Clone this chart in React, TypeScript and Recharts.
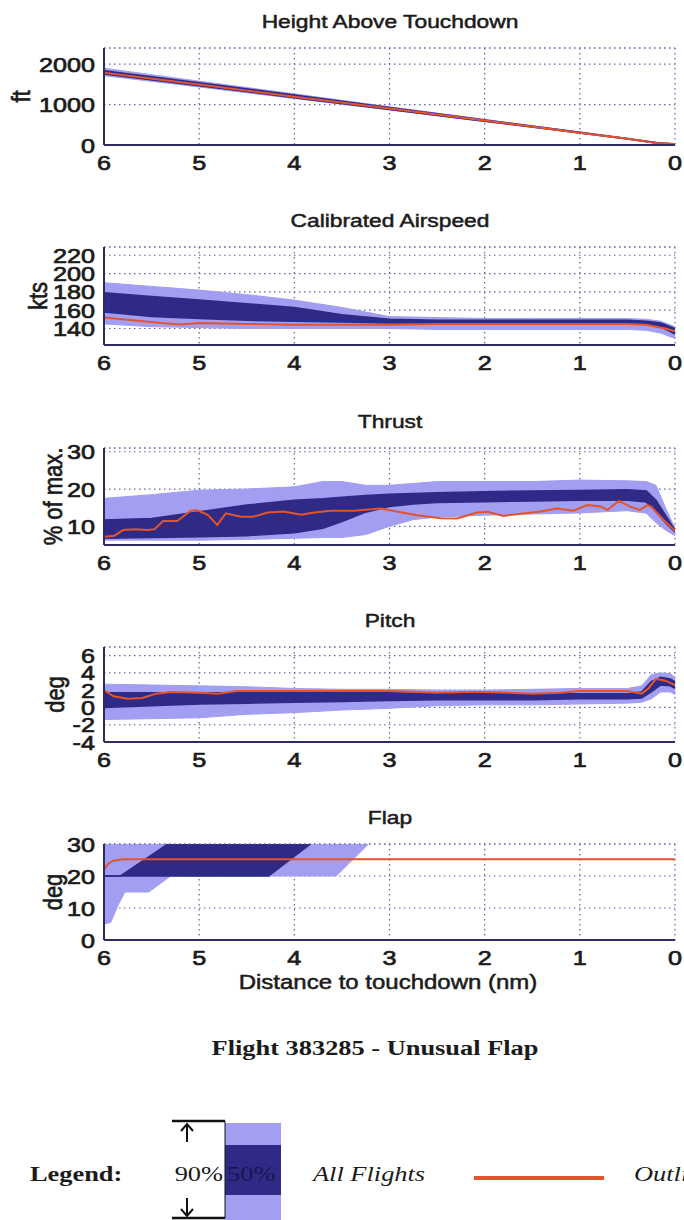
import React from 'react';
import { ComposedChart, Area, Line, XAxis, YAxis, CartesianGrid, ReferenceLine } from 'recharts';

const DIST_TICKS = [6, 5, 4, 3, 2, 1, 0];

// Height above touchdown (ft)
const heightDist = [6, 5, 4, 3, 2, 1, 0.5, 0.2, 0];
const heightLo90 = [1715, 1435, 1150, 868, 578, 290, 145, 40, 0];
const heightHi90 = [1900, 1580, 1265, 945, 635, 322, 165, 70, 30];
const heightLo50 = [1755, 1468, 1170, 880, 590, 296, 150, 48, 8];
const heightHi50 = [1840, 1540, 1235, 928, 620, 315, 160, 60, 22];
const heightOutDist = [6, 5, 4, 3, 2, 1, 0.5, 0.2, 0];
const heightOut = [1785, 1495, 1195, 905, 605, 305, 155, 50, 25];

// Calibrated airspeed (kts)
const speedDist = [6, 5.5, 5, 4.5, 4, 3.5, 3, 2.5, 2, 1.5, 1, 0.5, 0.3, 0.15, 0];
const speedHi90 = [190, 186, 182, 177, 171, 163, 153, 152, 151, 151, 151, 151, 150, 148, 142];
const speedHi50 = [179, 175, 171, 167, 163, 155, 150, 149, 149, 149, 149, 149, 148, 146, 140];
const speedLo50 = [158, 153, 151, 149, 148, 147, 146, 146, 146, 146, 146, 146, 145, 142, 134];
const speedLo90 = [145, 142, 141, 140, 140, 140, 140, 139, 139, 139, 139, 139, 138, 135, 129];
const speedOutDist = [6, 5.7, 5.4, 5.2, 5, 4.5, 4, 3.5, 3, 2.5, 2, 1.5, 1, 0.5, 0.3, 0.1, 0];
const speedOut = [152, 149, 146, 144.5, 146, 145, 144, 144, 144, 145, 145, 145, 145, 145, 144, 140, 137];

// Thrust (% of max.)
const thrustDist = [6, 5.5, 5, 4.5, 4, 3.7, 3.5, 3.25, 3, 2.75, 2.5, 2, 1.5, 1, 0.5, 0.3, 0.2, 0.1, 0];
const thrustHi90 = [17.5, 18.5, 19.7, 20, 20.6, 22, 22, 21, 21, 21.5, 22, 22, 22, 22.4, 22.2, 22, 21, 15, 9.5];
const thrustHi50 = [11.7, 12.1, 13.9, 15.7, 17, 17.4, 17.8, 18.3, 18.6, 18.8, 19, 19.3, 19.5, 19.6, 19.8, 19.5, 17, 13, 9];
const thrustLo50 = [6.8, 7, 7.2, 7.5, 8.3, 9.5, 11.3, 13.8, 15.3, 16, 16.4, 16.6, 16.8, 17, 17, 16.5, 14, 11, 8.5];
const thrustLo90 = [6.3, 6.3, 6.3, 6.5, 6.8, 7, 7, 7.8, 10, 11.8, 12.5, 13, 13.3, 13.6, 14.2, 13.5, 11, 9, 7.5];
const thrustOutDist = [
  6, 5.89, 5.8, 5.68, 5.54, 5.47, 5.38, 5.23, 5.09, 5.02, 4.91, 4.81, 4.72, 4.56, 4.43, 4.28, 4.11, 3.93, 3.79,
  3.62, 3.37, 3.09, 2.95, 2.71, 2.46, 2.29, 2.08, 1.97, 1.8, 1.62, 1.41, 1.24, 1.07, 0.92, 0.78, 0.71, 0.59,
  0.47, 0.37, 0.29, 0.25, 0.12, 0,
];
const thrustOut = [
  7.2, 7.5, 9.0, 9.2, 9.0, 9.2, 11.4, 11.4, 14.2, 14.3, 13.1, 10.4, 13.5, 12.6, 12.6, 13.7, 14.0, 13.1, 13.7,
  14.2, 14.2, 14.8, 14.1, 13.0, 12.2, 12.1, 13.7, 13.9, 12.8, 13.4, 14.0, 14.8, 14.2, 15.7, 15.3, 14.4, 16.8,
  15.3, 14.4, 15.7, 15.3, 11.7, 8.8,
];

// Pitch (deg)
const pitchDist = [6, 5.5, 5, 4.5, 4, 3.5, 3, 2.5, 2, 1.5, 1, 0.5, 0.35, 0.25, 0.15, 0.05, 0];
const pitchHi90 = [2.7, 2.6, 2.5, 2.4, 2.2, 2.1, 2.1, 2.0, 2.0, 2.1, 2.2, 2.2, 2.5, 3.8, 4.0, 3.9, 3.5];
const pitchHi50 = [1.7, 1.7, 1.7, 1.7, 1.7, 1.7, 1.7, 1.6, 1.6, 1.6, 1.6, 1.6, 1.8, 3.0, 3.5, 3.3, 3.0];
const pitchLo50 = [0.0, 0.2, 0.4, 0.5, 0.6, 0.7, 0.8, 0.9, 0.9, 0.9, 1.0, 1.0, 1.1, 1.8, 2.6, 2.5, 2.2];
const pitchLo90 = [-1.4, -1.3, -1.2, -0.8, -0.6, -0.3, -0.1, 0.2, 0.3, 0.3, 0.4, 0.5, 0.6, 1.0, 1.8, 1.8, 1.5];
const pitchOutDist = [6, 5.9, 5.75, 5.6, 5.45, 5.3, 5, 4.8, 4.6, 4, 3.5, 3, 2.5, 2.2, 2, 1.5, 1.2, 1, 0.5, 0.35, 0.28, 0.2, 0.1, 0];
const pitchOut = [2.0, 1.3, 1.0, 1.1, 1.6, 1.8, 1.7, 1.6, 1.9, 1.9, 1.9, 1.9, 1.7, 1.8, 1.8, 1.6, 1.7, 1.9, 1.9, 1.6, 2.2, 3.3, 3.1, 2.6];

// Flap (deg)
const flapDist90 = [6, 5.93, 5.85, 5.78, 5.53, 5.3, 3.56, 3.22];
const flapLo90 = [5, 5.5, 11, 15, 15, 20, 20, 30];
const flapHi90 = [30, 30, 30, 30, 30, 30, 30, 30];
const flapDist50 = [6, 5.83, 5.33, 4.27, 3.83];
const flapLo50 = [20, 20, 20, 20, 30];
const flapHi50 = [20, 20, 30, 30, 30];
const flapOutDist = [6, 5.95, 5.9, 5.85, 5.8, 0];
const flapOut = [22, 24, 24.8, 25, 25.2, 25.2];

const LIGHT = '#a29ef1';
const DARK = '#2e2a86';
const ORANGE = '#e4532b';
const GRID = '#5f63a8';
const AXIS = '#2c2c5e';
const INK = '#1b1b1b';
const SANS = '"Liberation Sans", Arial, sans-serif';
const SERIF = '"Liberation Serif", "Times New Roman", serif';
const SX = 1.2;

const band = (dist: number[], lo: number[], hi: number[]) => dist.map((d, i) => ({ d, v: [lo[i], hi[i]] }));
const trace = (dist: number[], vals: number[]) => dist.map((d, i) => ({ d, v: vals[i] }));

// unitX: centre of the rotated unit label, left of the widest tick label
const panels = [
  {
    title: 'Height Above Touchdown', unit: 'ft', unitX: 21, top: 48, bottom: 145, domain: [0, 2400], ticks: [0, 1000, 2000],
    outer: band(heightDist, heightLo90, heightHi90), inner: band(heightDist, heightLo50, heightHi50),
    outlier: trace(heightOutDist, heightOut),
  },
  {
    title: 'Calibrated Airspeed', unit: 'kts', unitX: 38, top: 247, bottom: 345, domain: [122, 229], ticks: [140, 160, 180, 200, 220],
    outer: band(speedDist, speedLo90, speedHi90), inner: band(speedDist, speedLo50, speedHi50),
    outlier: trace(speedOutDist, speedOut),
  },
  {
    title: 'Thrust', unit: '% of max.', unitX: 53, top: 448, bottom: 545, domain: [5, 31], ticks: [10, 20, 30],
    outer: band(thrustDist, thrustLo90, thrustHi90), inner: band(thrustDist, thrustLo50, thrustHi50),
    outlier: trace(thrustOutDist, thrustOut),
  },
  {
    title: 'Pitch', unit: 'deg', unitX: 55, top: 647, bottom: 742, domain: [-4, 7], ticks: [-4, -2, 0, 2, 4, 6],
    outer: band(pitchDist, pitchLo90, pitchHi90), inner: band(pitchDist, pitchLo50, pitchHi50),
    outlier: trace(pitchOutDist, pitchOut),
  },
  {
    title: 'Flap', unit: 'deg', unitX: 53, top: 844, bottom: 940, domain: [0, 30], ticks: [0, 10, 20, 30],
    outer: band(flapDist90, flapLo90, flapHi90), inner: band(flapDist50, flapLo50, flapHi50),
    outlier: trace(flapOutDist, flapOut),
  },
];

const PAD_TOP = 12;
const X_AXIS_H = 50;
const LEFT = 104;

function Txt({ x, y, size, children, family = SANS, weight = 'normal', italic = false, anchor = 'start', fill = INK, rotate = false, heavy = 0 }: any) {
  const t = `translate(${x},${y}) scale(${SX},1)${rotate ? ' rotate(-90)' : ''}`;
  return (
    <text transform={t} textAnchor={anchor} fontSize={size} fontFamily={family} fontWeight={weight}
      fontStyle={italic ? 'italic' : 'normal'} fill={fill} stroke={heavy ? fill : 'none'} strokeWidth={heavy}
      dominantBaseline={rotate ? 'central' : 'auto'}>
      {children}
    </text>
  );
}

const XTick = (props: any) => (
  <Txt x={props.x} y={props.y + 25} size={21} anchor="middle" heavy={0.7}>{props.payload.value}</Txt>
);

const YTick = (props: any) => (
  <Txt x={props.x - 9} y={props.y + 7.5} size={21} anchor="end" heavy={0.7}>{props.payload.value}</Txt>
);

function Panel({ p }: any) {
  const h = p.bottom - p.top + PAD_TOP + X_AXIS_H;
  const dash = '1.5 3.5';
  return (
    <div style={{ position: 'absolute', left: 0, top: p.top - PAD_TOP }}>
      <ComposedChart width={684} height={h} margin={{ top: PAD_TOP, right: 9, bottom: 0, left: 0 }}>
        <CartesianGrid stroke={GRID} strokeDasharray={dash} strokeWidth={1.2} />
        <ReferenceLine y={p.domain[1]} stroke={GRID} strokeDasharray={dash} strokeWidth={1.2} ifOverflow="extendDomain" />
        <XAxis dataKey="d" type="number" domain={[0, 6]} ticks={DIST_TICKS} reversed allowDataOverflow
          height={X_AXIS_H} tickSize={0} tickMargin={0} tickLine={false} interval={0}
          axisLine={{ stroke: AXIS, strokeWidth: 2 }} tick={XTick} />
        <YAxis type="number" domain={p.domain} ticks={p.ticks} allowDataOverflow width={LEFT}
          tickSize={0} tickMargin={0} tickLine={false} interval={0}
          axisLine={{ stroke: AXIS, strokeWidth: 2 }} tick={YTick} />
        <Area data={p.outer} dataKey="v" type="linear" fill={LIGHT} fillOpacity={1} stroke={LIGHT}
          strokeWidth={1} isAnimationActive={false} />
        <Area data={p.inner} dataKey="v" type="linear" fill={DARK} fillOpacity={1} stroke={DARK}
          strokeWidth={1.5} isAnimationActive={false} />
        <Line data={p.outlier} dataKey="v" type="linear" stroke={ORANGE} strokeWidth={2} dot={false}
          isAnimationActive={false} />
      </ComposedChart>
    </div>
  );
}

export default function App() {
  return (
    <div style={{ position: 'absolute', left: 0, top: 0, width: 684, height: 1220, background: '#fff', overflow: 'hidden' }}>
      {panels.map((p) => (
        <Panel key={p.title} p={p} />
      ))}
      <svg width={684} height={1220} style={{ position: 'absolute', left: 0, top: 0, pointerEvents: 'none' }}>
        {panels.map((p) => (
          <g key={p.title}>
            <Txt x={390} y={p.top - 20} size={19} anchor="middle" heavy={0.5}>{p.title}</Txt>
            <Txt x={p.unitX} y={(p.top + p.bottom) / 2} size={22} anchor="middle" rotate heavy={0.6}>{p.unit}</Txt>
          </g>
        ))}
        <Txt x={388} y={989} size={20} anchor="middle" heavy={0.5}>Distance to touchdown (nm)</Txt>

        <Txt x={375} y={1055} size={22} family={SERIF} weight="bold" anchor="middle">Flight 383285 - Unusual Flap</Txt>

        {/* legend */}
        <Txt x={30} y={1181} size={22} family={SERIF} weight="bold">Legend:</Txt>
        <rect x={225} y={1123} width={56} height={100} fill={LIGHT} />
        <rect x={225} y={1145} width={56} height={50} fill={DARK} />
        <line x1={172} x2={225} y1={1121} y2={1121} stroke="#111" strokeWidth={2.5} />
        <line x1={172} x2={225} y1={1218} y2={1218} stroke="#111" strokeWidth={2.5} />
        <line x1={225} x2={225} y1={1121} y2={1218} stroke="#111" strokeWidth={1} />
        <path d="M187 1124 V1142 M181 1131 L187 1124 L193 1131" stroke="#111" strokeWidth={2} fill="none" />
        <path d="M187 1198 V1216 M181 1209 L187 1216 L193 1209" stroke="#111" strokeWidth={2} fill="none" />
        <Txt x={223} y={1181} size={22} family={SERIF} anchor="end">90%</Txt>
        <Txt x={227} y={1181} size={22} family={SERIF} fill="#1a1650">50%</Txt>
        <Txt x={313} y={1181} size={22} family={SERIF} italic>All Flights</Txt>
        <line x1={474} x2={604} y1={1178} y2={1178} stroke={ORANGE} strokeWidth={4} />
        <Txt x={634} y={1181} size={22} family={SERIF} italic>Outlier</Txt>
      </svg>
    </div>
  );
}
